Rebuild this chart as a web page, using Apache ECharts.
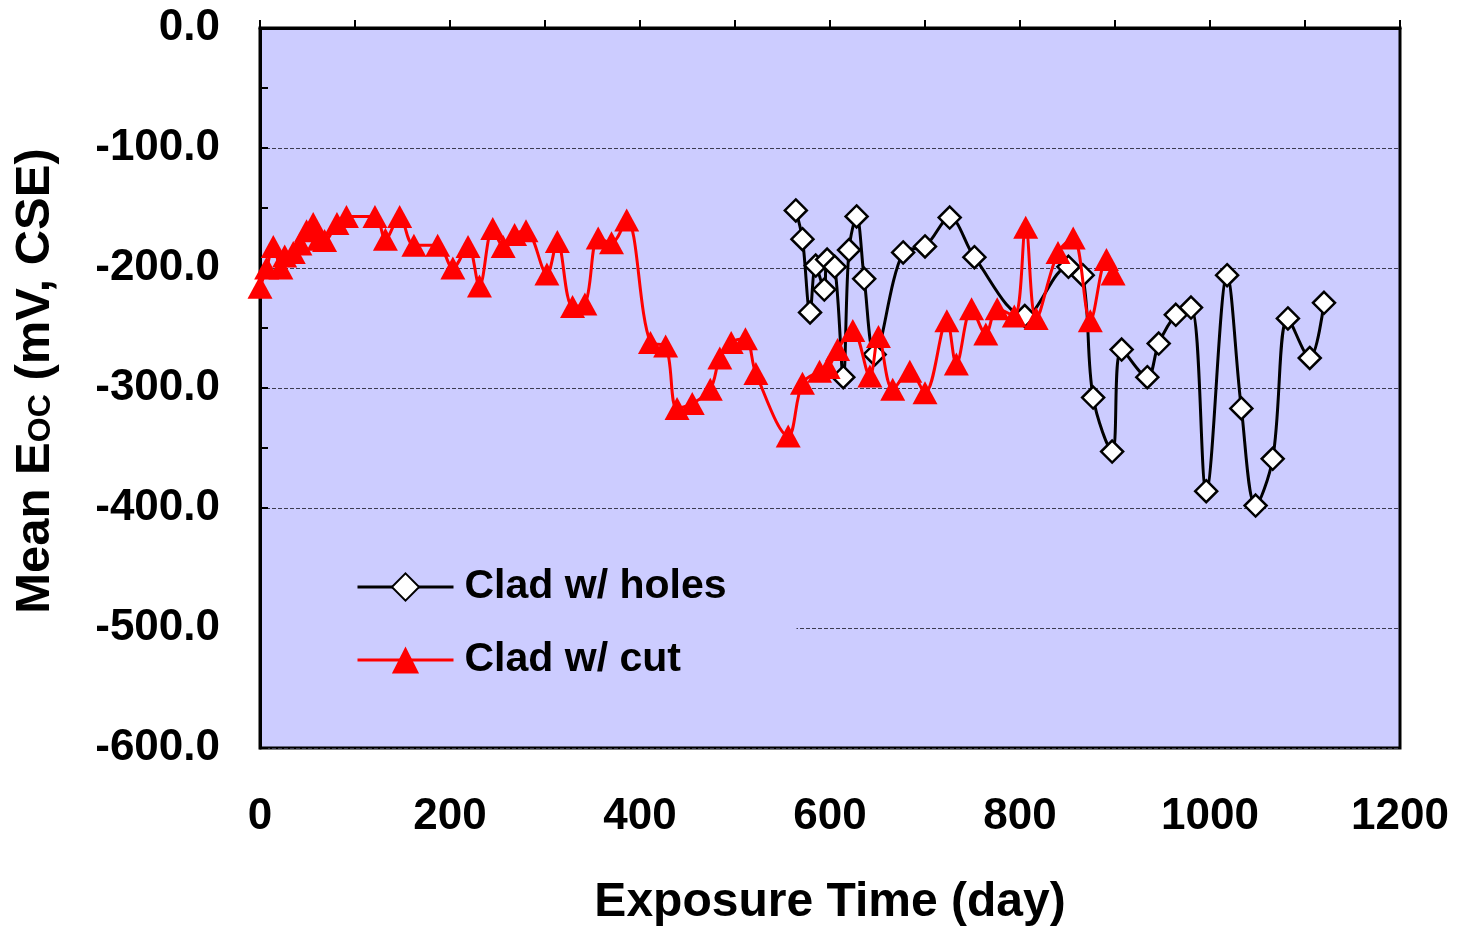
<!DOCTYPE html>
<html>
<head>
<meta charset="utf-8">
<script src="https://cdn.jsdelivr.net/npm/echarts@6/dist/echarts.min.js"></script>
<style>
  html, body { margin: 0; padding: 0; background: #fff; overflow: hidden; }
  #chart { width: 1459px; height: 927px; }
</style>
</head>
<body>
<div id="chart"></div>
<script>
// Clad w/ holes: exposure day and mean open-circuit potential (mV, CSE)
const holeDays = [564, 571, 579, 585, 594, 597, 605, 614, 620, 628, 636, 647, 677, 700, 726, 752,
  805, 851, 866, 877, 897, 907, 934, 946, 964, 980, 996, 1018, 1033, 1048, 1066, 1082, 1105, 1120];
const holeMv = [-152, -176, -237, -198, -218, -193, -199, -291, -185, -157, -209, -272, -187, -182, -158, -191,
  -240, -199, -206, -308, -353, -268, -291, -263, -239, -233, -386, -206, -317, -398, -359, -242, -275, -229];

// Clad w/ cut
const cutDays = [0, 7, 14, 22, 26, 35, 42, 49, 56, 62, 68, 81, 91, 121, 132, 147, 162, 187, 203, 219,
  231, 245, 256, 268, 280, 302, 313, 329, 342, 356, 370, 386, 411, 427, 439, 455, 474, 484, 496, 511,
  522, 556, 571, 589, 598, 608, 624, 642, 651, 666, 684, 700, 723, 733, 749, 764, 776, 794, 806, 817,
  840, 856, 874, 891, 898];
const cutMv = [-216, -200, -182, -200, -190, -187, -180, -169, -163, -176, -177, -163, -157, -157, -176, -157, -181, -181, -200, -182,
  -215, -167, -182, -172, -169, -205, -178, -232, -230, -175, -179, -160, -262, -265, -317, -313, -301, -275, -262, -259,
  -288, -340, -296, -286, -283, -268, -252, -290, -257, -301, -286, -304, -244, -280, -234, -255, -234, -240, -166, -242,
  -187, -175, -244, -193, -205];

const seriesNames = ['Clad w/ holes', 'Clad w/ cut'];
const xTitle = 'Exposure Time (day)';

const pairs = (xs, ys) => xs.map((x, i) => [x, ys[i]]);

const font = 'Arial, "Liberation Sans", Helvetica, sans-serif';
const chart = echarts.init(document.getElementById('chart'), null, { renderer: 'canvas', width: 1459, height: 927 });

chart.setOption({
  animation: false,
  backgroundColor: '#ffffff',
  grid: {
    left: 260, right: 59, top: 28, bottom: 179,
    outerBoundsMode: 'none',
    show: true,
    backgroundColor: '#ccccff',
    borderColor: '#000',
    borderWidth: 3
  },
  legend: {
    orient: 'vertical',
    left: 262,
    top: 522,
    padding: [44, 70, 23, 94],
    backgroundColor: '#ccccff',
    itemWidth: 96,
    itemHeight: 34,
    itemGap: 31,
    lineStyle: { width: 3 },
    textStyle: { fontFamily: font, fontWeight: 'bold', fontSize: 41, color: '#000', lineHeight: 42, padding: [0, 0, 0, 6] },
    data: seriesNames
  },
  xAxis: {
    type: 'value',
    min: 0, max: 1200, interval: 200,
    name: xTitle,
    nameLocation: 'middle',
    nameGap: 131,
    nameTextStyle: { fontFamily: font, fontWeight: 'bold', fontSize: 48, color: '#000' },
    axisLine: { lineStyle: { color: '#000', width: 3 } },
    axisTick: { inside: true, length: 8, lineStyle: { color: '#000', width: 2 } },
    minorTick: { show: true, splitNumber: 2, length: 8, lineStyle: { color: '#000', width: 2 } },
    axisLabel: {
      margin: 47, fontFamily: font, fontWeight: 'bold', fontSize: 44, color: '#000',
      formatter: v => String(v)
    },
    splitLine: { show: false }
  },
  yAxis: {
    type: 'value',
    min: -600, max: 0, interval: 100,
    name: 'Mean E{sub|OC} (mV, CSE)',
    nameLocation: 'middle',
    nameGap: 200,
    nameTextStyle: {
      fontFamily: font, fontWeight: 'bold', fontSize: 49, color: '#000',
      padding: [0, 0, 0, 14],
      rich: {
        sub: { fontFamily: font, fontWeight: 'bold', fontSize: 32, color: '#000', padding: [12, 0, 0, 0] }
      }
    },
    axisLine: { lineStyle: { color: '#000', width: 3 } },
    axisTick: { inside: true, length: 8, lineStyle: { color: '#000', width: 2 } },
    minorTick: { show: true, splitNumber: 2, length: 8, lineStyle: { color: '#000', width: 2 } },
    axisLabel: {
      margin: 40, fontFamily: font, fontWeight: 'bold', fontSize: 44, color: '#000',
      formatter: v => v.toFixed(1)
    },
    splitLine: { show: true, lineStyle: { color: '#3c3c50', width: 1, type: [4, 2] } }
  },
  series: [
    {
      name: seriesNames[0],
      type: 'line',
      smooth: 0.35,
      data: pairs(holeDays, holeMv),
      symbol: 'diamond',
      symbolSize: 22,
      lineStyle: { color: '#000', width: 3 },
      itemStyle: { color: '#fff', borderColor: '#000', borderWidth: 2.5 },
      z: 3
    },
    {
      name: seriesNames[1],
      type: 'line',
      smooth: 0.35,
      data: pairs(cutDays, cutMv),
      symbol: 'triangle',
      symbolSize: [25, 23],
      lineStyle: { color: '#ff0000', width: 3 },
      itemStyle: { color: '#ff0000', borderColor: '#ff0000', borderWidth: 0 },
      z: 4
    }
  ]
});
</script>
</body>
</html>
